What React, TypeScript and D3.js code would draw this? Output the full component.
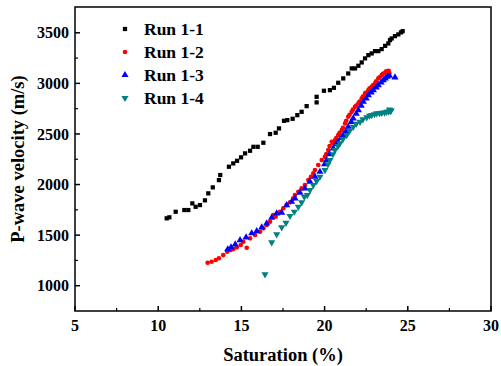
import React from 'react';
import * as d3 from 'd3';

// Run 1-1 (black squares)
const run11X = [10.51, 10.67, 11.05, 11.57, 11.81, 12.05, 12.25, 12.51, 12.81, 13.01, 13.28, 13.65, 13.73, 14.25, 14.51, 14.74, 14.98, 15.22, 15.52, 15.72, 15.98, 16.32, 16.72, 17.06, 17.26, 17.56, 17.76, 18.08, 18.36, 18.62, 18.92, 19.52, 19.52, 19.96, 20.32, 20.56, 20.82, 21.12, 21.42, 21.63, 21.83, 22.03, 22.23, 22.43, 22.63, 22.83, 23.03, 23.23, 23.43, 23.64, 23.83, 23.93, 24.03, 24.23, 24.43, 24.59, 24.69];
const run11Y = [1666, 1676, 1731, 1748, 1748, 1814, 1780, 1797, 1844, 1913, 1972, 2044, 2094, 2176, 2209, 2235, 2269, 2308, 2334, 2373, 2373, 2413, 2499, 2512, 2555, 2630, 2637, 2650, 2686, 2719, 2775, 2812, 2867, 2927, 2933, 2956, 3006, 3049, 3098, 3148, 3148, 3174, 3207, 3247, 3279, 3296, 3319, 3319, 3339, 3371, 3395, 3428, 3444, 3467, 3484, 3504, 3516];

// Run 1-2 (red circles)
const run12X = [12.97, 13.21, 13.46, 13.65, 13.91, 14.15, 14.36, 14.51, 14.72, 14.96, 15.11, 15.32, 15.52, 15.82, 16.12, 16.32, 16.52, 16.72, 16.92, 17.06, 17.32, 17.52, 17.72, 17.92, 18.12, 18.22, 18.42, 18.62, 18.82, 19.02, 19.18, 19.32, 19.42, 19.62, 19.83, 20.02, 20.1, 20.22, 20.3, 20.43, 20.5, 20.63, 20.7, 20.82, 20.9, 21.03, 21.1, 21.23, 21.3, 21.42, 21.5, 21.63, 21.7, 21.83, 21.9, 22.03, 22.1, 22.23, 22.3, 22.43, 22.5, 22.63, 22.7, 22.83, 22.9, 23.03, 23.1, 23.23, 23.3, 23.43, 23.5, 23.63, 23.7, 23.79, 23.85, 23.89];
const run12Y = [1227, 1237, 1254, 1271, 1303, 1336, 1353, 1363, 1379, 1402, 1435, 1375, 1468, 1501, 1533, 1567, 1600, 1632, 1698, 1682, 1731, 1765, 1797, 1824, 1863, 1896, 1929, 1962, 1995, 2044, 2077, 2110, 2143, 2193, 2242, 2274, 2300, 2341, 2380, 2423, 2410, 2439, 2460, 2489, 2510, 2538, 2560, 2604, 2630, 2670, 2690, 2719, 2740, 2768, 2780, 2802, 2820, 2851, 2870, 2901, 2910, 2933, 2950, 2966, 2980, 3000, 3020, 3049, 3060, 3082, 3095, 3105, 3120, 3115, 3125, 3099];

// Run 1-3 (blue triangles)
const run13X = [14.18, 14.38, 14.63, 14.92, 15.28, 15.62, 15.92, 16.22, 16.52, 16.82, 17.12, 17.42, 17.72, 18.02, 18.22, 18.52, 18.82, 19.12, 19.42, 19.72, 20.0, 20.13, 20.3, 20.52, 20.7, 20.82, 21.0, 21.12, 21.3, 21.42, 21.6, 21.72, 21.9, 22.03, 22.2, 22.33, 22.5, 22.63, 22.8, 22.93, 23.1, 23.23, 23.4, 23.53, 23.65, 23.77, 23.9, 24.23];
const run13Y = [1360, 1379, 1409, 1451, 1478, 1518, 1540, 1577, 1616, 1672, 1715, 1721, 1797, 1830, 1863, 1919, 1962, 2028, 2077, 2126, 2200, 2242, 2300, 2357, 2400, 2423, 2460, 2489, 2530, 2571, 2620, 2654, 2700, 2736, 2780, 2818, 2850, 2884, 2910, 2933, 2960, 2983, 3010, 3032, 3050, 3065, 3075, 3059];

// Run 1-4 (teal down-triangles)
const run14X = [16.42, 16.82, 17.12, 17.42, 17.68, 17.92, 18.18, 18.42, 18.62, 18.78, 18.96, 19.12, 19.32, 19.52, 19.72, 20.02, 20.2, 20.32, 20.5, 20.62, 20.8, 20.92, 21.1, 21.33, 21.5, 21.72, 21.9, 22.13, 22.3, 22.53, 22.7, 22.83, 23.0, 23.13, 23.3, 23.43, 23.6, 23.73, 23.85, 23.9, 23.97, 24.0];
const run14Y = [1113, 1429, 1508, 1577, 1622, 1689, 1731, 1780, 1824, 1879, 1896, 1945, 1995, 2034, 2077, 2143, 2200, 2242, 2300, 2341, 2380, 2407, 2450, 2489, 2530, 2571, 2600, 2620, 2645, 2664, 2680, 2686, 2695, 2703, 2705, 2709, 2712, 2719, 2722, 2740, 2726, 2735];

const seriesNames = ['Run 1-1', 'Run 1-2', 'Run 1-3', 'Run 1-4'];
const seriesColors = ['#000000', '#ff0000', '#0000ff', '#008080'];
const seriesXs = [run11X, run12X, run13X, run14X];
const seriesYs = [run11Y, run12Y, run13Y, run14Y];
const symbolTypes = [d3.symbolSquare, d3.symbolCircle, d3.symbolTriangle, d3.symbolTriangle];
const symbolSizes = [18, 17, 22, 22];

const xTicks = [5, 10, 15, 20, 25, 30];
const yTicks = [1000, 1500, 2000, 2500, 3000, 3500];

const W = 501;
const H = 366;
const margin = { top: 7, right: 10, bottom: 55, left: 75 };
const FONT = '"Liberation Serif", "Times New Roman", serif';

export default function App() {
  const x = d3.scaleLinear().domain([5, 30]).range([margin.left, W - margin.right]);
  const y = d3.scaleLinear().domain([750, 3755]).range([H - margin.bottom, margin.top]);

  const symbolPath = (i: number) => d3.symbol().type(symbolTypes[i]).size(symbolSizes[i])() || '';
  const xMinor = d3.range(7.5, 30, 5);
  const yMinor = d3.range(1250, 3750, 500);
  const x0 = margin.left;
  const x1 = W - margin.right;
  const y0 = H - margin.bottom;
  const y1 = margin.top;

  return (
    <svg width={W} height={H} style={{ position: 'absolute', left: 0, top: 0, background: '#fff' }} fontFamily={FONT}>
      {/* data */}
      {seriesXs.map((xs, si) => (
        <g key={si} fill={seriesColors[si]}>
          {xs.map((v, j) => (
            <path
              key={j}
              d={symbolPath(si)}
              transform={`translate(${x(v)},${y(seriesYs[si][j])})${si === 3 ? ' rotate(180)' : ''}`}
            />
          ))}
        </g>
      ))}

      {/* frame */}
      <rect x={x0} y={y1} width={x1 - x0} height={y0 - y1} fill="none" stroke="#000" strokeWidth={1.5} />

      {/* x ticks */}
      {xTicks.map(t => (
        <g key={t}>
          <line x1={x(t)} x2={x(t)} y1={y0} y2={y0 - 5} stroke="#000" strokeWidth={1.5} />
          <text x={x(t)} y={y0 + 20} textAnchor="middle" fontSize={16} fontWeight="bold">{t}</text>
        </g>
      ))}
      {xMinor.map(t => (
        <line key={t} x1={x(t)} x2={x(t)} y1={y0} y2={y0 - 3} stroke="#000" strokeWidth={1.2} />
      ))}

      {/* y ticks */}
      {yTicks.map(t => (
        <g key={t}>
          <line x1={x0} x2={x0 + 5} y1={y(t)} y2={y(t)} stroke="#000" strokeWidth={1.5} />
          <text x={x0 - 6} y={y(t)} dy="0.35em" textAnchor="end" fontSize={16} fontWeight="bold">{t}</text>
        </g>
      ))}
      {yMinor.map(t => (
        <line key={t} x1={x0} x2={x0 + 3} y1={y(t)} y2={y(t)} stroke="#000" strokeWidth={1.2} />
      ))}

      {/* axis titles */}
      <text x={(x0 + x1) / 2} y={361} textAnchor="middle" fontSize={18.5} fontWeight="bold">Saturation (%)</text>
      <text transform={`translate(24,${(y0 + y1) / 2}) rotate(-90)`} textAnchor="middle" fontSize={18.5} fontWeight="bold">P-wave velocity (m/s)</text>

      {/* legend */}
      {seriesNames.map((name, i) => (
        <g key={name} transform={`translate(125,${29 + i * 23})`}>
          <path d={symbolPath(i)} fill={seriesColors[i]} transform={i === 3 ? 'rotate(180)' : ''} />
          <text x={19} y={0} dy="0.35em" fontSize={17.5} fontWeight="bold">{name}</text>
        </g>
      ))}
    </svg>
  );
}
